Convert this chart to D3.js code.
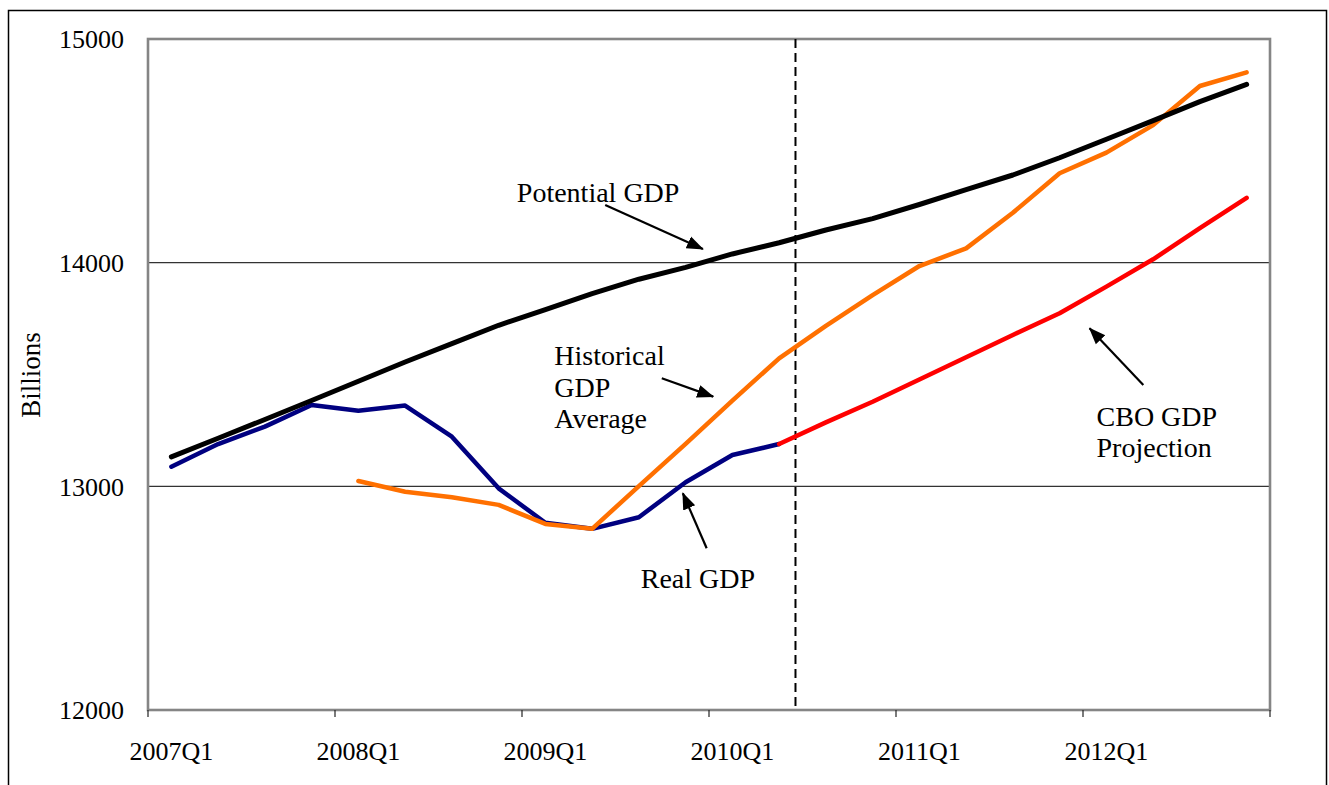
<!DOCTYPE html>
<html>
<head>
<meta charset="utf-8">
<script src="https://cdn.jsdelivr.net/npm/d3@7"></script>
<style>
  body { margin: 0; background: #fff; }
  svg text { font-family: "Liberation Serif", "Times New Roman", serif; fill: #000; }
</style>
</head>
<body>
<svg id="chart" width="1329" height="785"></svg>
<script>
// quarters on the category axis
var quarters = ["2007Q1","2007Q2","2007Q3","2007Q4","2008Q1","2008Q2","2008Q3","2008Q4",
                "2009Q1","2009Q2","2009Q3","2009Q4","2010Q1","2010Q2","2010Q3","2010Q4",
                "2011Q1","2011Q2","2011Q3","2011Q4","2012Q1","2012Q2","2012Q3","2012Q4"];
var yTicks = [12000, 13000, 14000, 15000];

// Potential GDP, 2007Q1 - 2012Q4
var potentialGDP = [13132,13215,13299,13384,13470,13556,13638,13720,13790,13862,13926,13979,
                    14039,14089,14146,14197,14260,14327,14392,14469,14552,14635,14720,14797];
// Real GDP, 2007Q1 - 2010Q2
var realGDP = [13088,13189,13267,13364,13338,13361,13222,12991,12837,12810,12862,13018,13140,13189];
// CBO projection, 2010Q2 - 2012Q4
var cboStart = "2010Q2";
var cboProjection = [13189,13286,13378,13478,13577,13677,13774,13893,14015,14154,14290];
// Historical GDP average path, 2008Q1 - 2012Q4
var histStart = "2008Q1";
var historicalAvg = [13024,12976,12951,12917,12832,12810,13001,13190,13383,13572,13717,
                     13855,13985,14064,14223,14400,14492,14615,14790,14851];

var svg = d3.select("#chart");
var margin = {top: 39, right: 59, bottom: 75, left: 148},
    width = 1329 - margin.left - margin.right,
    height = 785 - margin.top - margin.bottom;

// outer frame
svg.append("rect")
  .attr("x", 8.5).attr("y", 10.5)
  .attr("width", 1318).attr("height", 800)
  .attr("fill", "none").attr("stroke", "#000").attr("stroke-width", 1.5);

var g = svg.append("g").attr("transform", "translate(" + margin.left + "," + margin.top + ")");

var x = d3.scaleBand().domain(quarters).range([0, width]).padding(0);
var y = d3.scaleLinear().domain([12000, 15000]).range([height, 0]);
function cx(q) { return x(q) + x.bandwidth() / 2; }
function xi(i) { return (i + 0.5) * x.bandwidth(); }   // fractional category position

// gridlines
g.selectAll(".grid")
  .data(yTicks.filter(function(d){ return d > 12000 && d < 15000; }))
  .enter().append("line")
    .attr("x1", 0).attr("x2", width)
    .attr("y1", function(d){ return y(d); }).attr("y2", function(d){ return y(d); })
    .attr("stroke", "#333").attr("stroke-width", 1.2);

// plot frame
g.append("rect")
  .attr("width", width).attr("height", height)
  .attr("fill", "none").attr("stroke", "#858585").attr("stroke-width", 2.6);

// y labels
g.selectAll(".ylab")
  .data(yTicks)
  .enter().append("text")
    .attr("x", -24).attr("y", function(d){ return y(d); })
    .attr("dy", "0.36em")
    .attr("text-anchor", "end")
    .attr("font-size", 26)
    .text(function(d){ return d; });

// x ticks between years, labels under each Q1
var q1 = quarters.filter(function(q){ return q.slice(4) == "Q1"; });
g.selectAll(".xtick")
  .data(q1.map(function(q){ return x(q); }).concat([width]))
  .enter().append("line")
    .attr("x1", function(d){ return d; }).attr("x2", function(d){ return d; })
    .attr("y1", height).attr("y2", height + 7)
    .attr("stroke", "#222").attr("stroke-width", 1.2);

g.selectAll(".xlab")
  .data(q1)
  .enter().append("text")
    .attr("x", function(d){ return cx(d); })
    .attr("y", height + 50)
    .attr("text-anchor", "middle")
    .attr("font-size", 26)
    .text(function(d){ return d; });

// y axis title
svg.append("text")
  .attr("transform", "translate(40,375) rotate(-90)")
  .attr("text-anchor", "middle")
  .attr("font-size", 27)
  .text("Billions");

// forecast divider (dashed), a third of a quarter past 2010Q2
var divider = quarters.indexOf("2010Q2") + 0.35;
g.append("line")
  .attr("x1", xi(divider)).attr("x2", xi(divider))
  .attr("y1", 0).attr("y2", height)
  .attr("stroke", "#000").attr("stroke-width", 2)
  .attr("stroke-dasharray", "9,5");

var line = d3.line()
  .x(function(d){ return cx(d.q); })
  .y(function(d){ return y(d.v); });

function series(values, start) {
  var s = quarters.indexOf(start);
  return values.map(function(v, i){ return {q: quarters[s + i], v: v}; });
}

var lines = [
  {data: series(realGDP, "2007Q1"), color: "#000080", w: 4.5},
  {data: series(cboProjection, cboStart), color: "#ff0000", w: 4.5},
  {data: series(historicalAvg, histStart), color: "#ff7000", w: 4.5},
  {data: series(potentialGDP, "2007Q1"), color: "#000000", w: 5}
];

g.selectAll(".series")
  .data(lines)
  .enter().append("path")
    .attr("class", "series")
    .attr("d", function(d){ return line(d.data); })
    .attr("fill", "none")
    .attr("stroke", function(d){ return d.color; })
    .attr("stroke-width", function(d){ return d.w; })
    .attr("stroke-linejoin", "round")
    .attr("stroke-linecap", "round");

// annotations, placed in data space (fractional quarter index, billions)
svg.append("defs").append("marker")
  .attr("id", "arrow")
  .attr("viewBox", "0 0 17 17")
  .attr("refX", 16).attr("refY", 8.5)
  .attr("markerWidth", 17).attr("markerHeight", 17)
  .attr("markerUnits", "userSpaceOnUse")
  .attr("orient", "auto")
  .append("path").attr("d", "M0,2 L17,8.5 L0,15 z").attr("fill", "#000");

var notes = [
  {lines: ["Potential GDP"], i: 7.39, v: 14271, from: [9.28, 14258], to: [11.37, 14061]},
  {lines: ["Historical", "GDP", "Average"], i: 8.19, v: 13542, from: [10.49, 13483], to: [11.59, 13401]},
  {lines: ["Real GDP"], i: 10.04, v: 12545, from: [11.45, 12723], to: [10.94, 12969]},
  {lines: ["CBO GDP", "Projection"], i: 19.79, v: 13270, from: [20.79, 13453], to: [19.64, 13707]}
];

var note = g.selectAll(".note")
  .data(notes)
  .enter().append("g");

note.append("text")
  .attr("font-size", 28)
  .attr("x", function(d){ return xi(d.i); })
  .attr("y", function(d){ return y(d.v); })
  .each(function(d){
    var t = d3.select(this);
    d.lines.forEach(function(s, k){
      t.append("tspan")
        .attr("x", xi(d.i))
        .attr("dy", k == 0 ? 0 : 31.5)
        .text(s);
    });
  });

note.append("line")
  .attr("x1", function(d){ return xi(d.from[0]); })
  .attr("y1", function(d){ return y(d.from[1]); })
  .attr("x2", function(d){ return xi(d.to[0]); })
  .attr("y2", function(d){ return y(d.to[1]); })
  .attr("stroke", "#000").attr("stroke-width", 2.2)
  .attr("marker-end", "url(#arrow)");
</script>
</body>
</html>
